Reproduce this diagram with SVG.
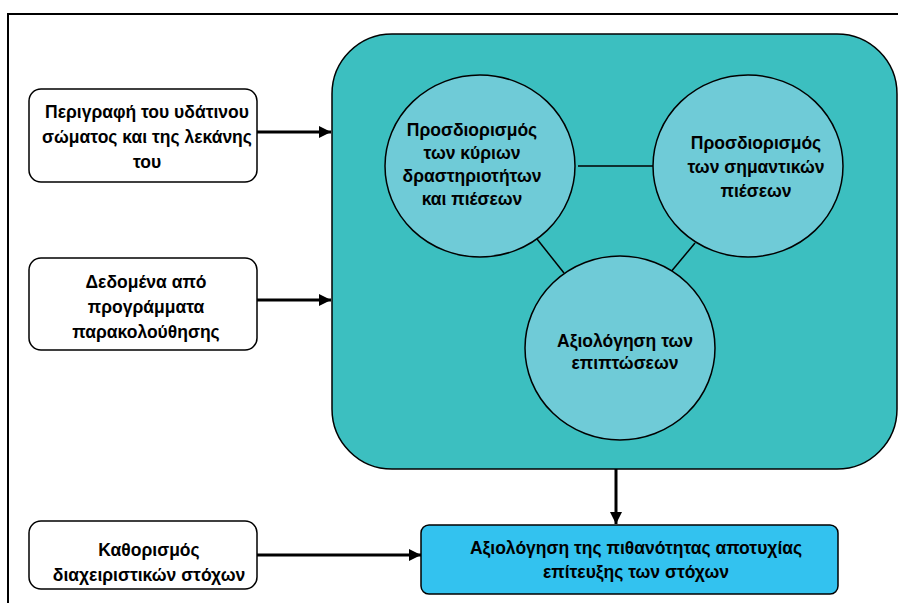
<svg xmlns="http://www.w3.org/2000/svg" width="898" height="603" viewBox="0 0 898 603">
<defs>
<style>
text{font-family:"Liberation Sans",Arial,sans-serif;font-weight:bold;font-size:17.5px;fill:#000;text-anchor:middle}
.box{fill:#fff;stroke:#000;stroke-width:1.5}
.circ{fill:#6fcbd7;stroke:#000;stroke-width:1.5}
.arr{stroke:#000;stroke-width:3;fill:none;marker-end:url(#ah)}
.ln{stroke:#000;stroke-width:1.5;fill:none}
</style>
<marker id="ah" viewBox="0 0 10 10" refX="10" refY="5" markerWidth="4" markerHeight="4" orient="auto" markerUnits="strokeWidth">
<path d="M0,0 L10,5 L0,10 z" fill="#000"/>
</marker>
</defs>
<rect x="0" y="0" width="898" height="603" fill="#fff"/>
<path d="M8,603 L8,14 L898,14" fill="none" stroke="#000" stroke-width="2"/>
<g id="container">
<rect x="332" y="34" width="565" height="435" rx="60" ry="60" fill="#3cbfc0" stroke="#000" stroke-width="1.5"/>
</g>
<g id="connectors">
<line class="ln" x1="578" y1="166" x2="654" y2="166"/>
<line class="ln" x1="537" y1="239" x2="564" y2="273"/>
<line class="ln" x1="695" y1="243" x2="670" y2="273"/>
<line class="arr" x1="257" y1="132" x2="331" y2="132"/>
<line class="arr" x1="257" y1="300" x2="331" y2="300"/>
<line class="arr" x1="257" y1="555" x2="421" y2="555"/>
<line class="arr" x1="616" y1="469" x2="616" y2="524"/>
</g>
<g id="c1">
<ellipse class="circ" cx="480" cy="166" rx="95" ry="91"/>
<text x="472" y="136">Προσδιορισμός</text>
<text x="472" y="159">των κύριων</text>
<text x="472" y="182">δραστηριοτήτων</text>
<text x="472" y="205">και πιέσεων</text>
</g>
<g id="c2">
<ellipse class="circ" cx="748" cy="166" rx="95" ry="91"/>
<text x="756" y="149">Προσδιορισμός</text>
<text x="756" y="173">των σημαντικών</text>
<text x="756" y="197">πιέσεων</text>
</g>
<g id="c3">
<ellipse class="circ" cx="620" cy="348" rx="95" ry="92"/>
<text x="625" y="347">Αξιολόγηση των</text>
<text x="625" y="369">επιπτώσεων</text>
</g>
<g id="b1">
<rect class="box" x="29" y="89" width="228" height="93" rx="12"/>
<text x="147" y="118">Περιγραφή του υδάτινου</text>
<text x="147" y="143">σώματος και της λεκάνης</text>
<text x="147" y="168">του</text>
</g>
<g id="b2">
<rect class="box" x="29" y="258" width="228" height="92" rx="12"/>
<text x="146" y="288">Δεδομένα από</text>
<text x="146" y="313">προγράμματα</text>
<text x="146" y="338">παρακολούθησης</text>
</g>
<g id="b3">
<rect class="box" x="29" y="521" width="228" height="68" rx="12"/>
<text x="149" y="556">Καθορισμός</text>
<text x="149" y="581">διαχειριστικών στόχων</text>
</g>
<g id="b4">
<rect x="421" y="525" width="417" height="69" rx="8" fill="#33c2ef" stroke="#000" stroke-width="1.5"/>
<text x="636" y="554">Αξιολόγηση της πιθανότητας αποτυχίας</text>
<text x="636" y="578">επίτευξης των στόχων</text>
</g>
</svg>
